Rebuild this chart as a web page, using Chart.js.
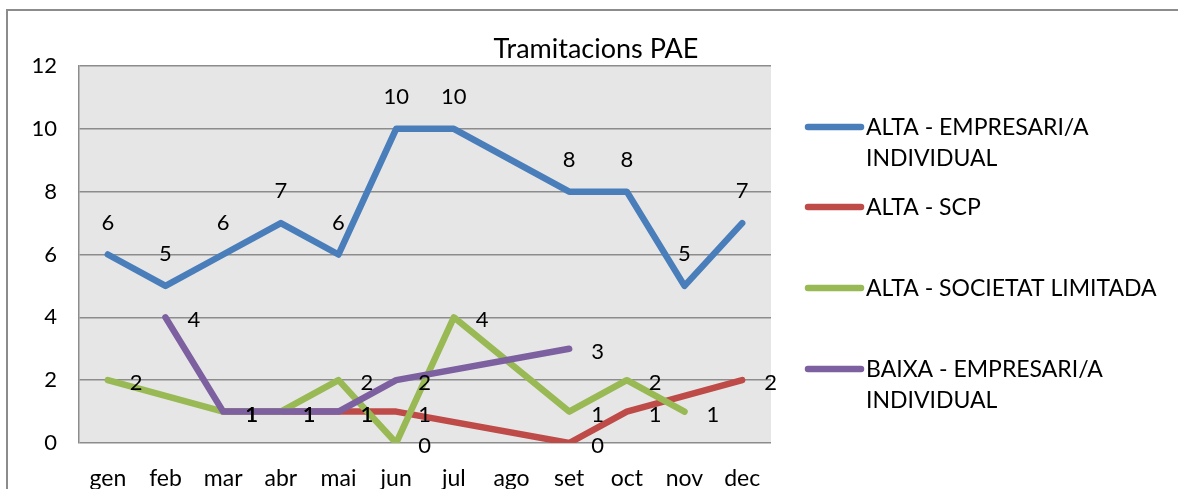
<!DOCTYPE html>
<html>
<head>
<meta charset="utf-8">
<script src="https://cdn.jsdelivr.net/npm/chart.js"></script>
<style>
  body { margin: 0; background: #fff; }
  #wrap { width: 1178px; height: 489px; }
</style>
</head>
<body>
<div id="wrap"><canvas id="line-chart" width="1178" height="489"></canvas></div>
<script>
var mesi = ['gen', 'feb', 'mar', 'abr', 'mai', 'jun', 'jul', 'ago', 'set', 'oct', 'nov', 'dec'];
var altaEmpresari = [6, 5, 6, 7, 6, 10, 10, null, 8, 8, 5, 7];
var altaScp = [null, null, 1, 1, 1, 1, null, null, 0, 1, null, 2];
var altaSocietat = [2, null, 1, 1, 2, 0, 4, null, 1, 2, 1, null];
var baixaEmpresari = [null, 4, 1, 1, 1, 2, null, null, 3, null, null, null];
var yTicks = [0, 2, 4, 6, 8, 10, 12];

var titol = 'Tramitacions PAE';
var series = [
    { label: ['ALTA - EMPRESARI/A', 'INDIVIDUAL'], color: '#4a7ebb', data: altaEmpresari },
    { label: ['ALTA - SCP'], color: '#be4b48', data: altaScp },
    { label: ['ALTA - SOCIETAT LIMITADA'], color: '#98b954', data: altaSocietat },
    { label: ['BAIXA - EMPRESARI/A', 'INDIVIDUAL'], color: '#7d60a0', data: baixaEmpresari }
];

var font = 'Lato, "Open Sans", sans-serif';

// marc, fons gris, titol i llegenda
var decor = {
    id: 'decor',
    beforeDraw: function(chart) {
        var ctx = chart.ctx, a = chart.chartArea;
        ctx.save();
        ctx.fillStyle = '#e6e6e6';
        ctx.fillRect(a.left, a.top, a.right - a.left, a.bottom - a.top);
        ctx.strokeStyle = '#8c8c8c';
        ctx.lineWidth = 2;
        ctx.strokeRect(7, 10, 1200, 520);
        ctx.restore();
    },
    afterDraw: function(chart) {
        var ctx = chart.ctx;
        ctx.save();
        ctx.fillStyle = '#000';
        ctx.font = '27px ' + font;
        ctx.textAlign = 'center';
        ctx.textBaseline = 'middle';
        ctx.fillText(titol, 596, 49);

        var ys = [127, 207, 288, 369];
        ctx.font = '23px ' + font;
        ctx.textAlign = 'left';
        series.forEach(function(s, i) {
            ctx.strokeStyle = s.color;
            ctx.lineWidth = 6.5;
            ctx.lineCap = 'round';
            ctx.beginPath();
            ctx.moveTo(808, ys[i]);
            ctx.lineTo(861, ys[i]);
            ctx.stroke();
            s.label.forEach(function(t, j) {
                ctx.fillText(t, 866, ys[i] + 1 + j * 31);
            });
        });
        ctx.restore();
    }
};

// etiquetes de dades
var etiquetes = {
    id: 'etiquetes',
    afterDatasetsDraw: function(chart) {
        var ctx = chart.ctx;
        ctx.save();
        ctx.fillStyle = '#000';
        ctx.font = '22px ' + font;
        ctx.textBaseline = 'middle';
        chart.data.datasets.forEach(function(ds, i) {
            var meta = chart.getDatasetMeta(i);
            meta.data.forEach(function(pt, k) {
                var v = ds.data[k];
                if (v === null || v === undefined) return;
                if (i === 0) {
                    ctx.textAlign = 'center';
                    ctx.fillText(String(v), pt.x, pt.y - 32);
                } else {
                    ctx.textAlign = 'left';
                    ctx.fillText(String(v), pt.x + 22, pt.y + 3);
                }
            });
        });
        ctx.restore();
    }
};

var ctx = document.getElementById('line-chart');
var chart = new Chart(ctx, {
    type: 'line',
    data: {
        labels: mesi,
        datasets: series.map(function(s, i) {
            return {
                label: s.label.join(' '),
                data: s.data,
                borderColor: s.color,
                backgroundColor: s.color,
                borderWidth: 6.5,
                borderJoinStyle: 'round',
                borderCapStyle: 'round',
                pointRadius: 0,
                spanGaps: true,
                tension: 0,
                order: 4 - i
            };
        })
    },
    options: {
        responsive: false,
        animation: false,
        layout: { padding: { top: 66, right: 407, left: 0, bottom: 0 } },
        plugins: {
            legend: { display: false },
            title: { display: false },
            tooltip: { enabled: false }
        },
        scales: {
            x: {
                offset: true,
                grid: { display: false, drawTicks: false },
                border: { display: false },
                ticks: { color: '#000', font: { family: font, size: 23 }, padding: 22, maxRotation: 0, autoSkip: false },
                afterFit: function(scale) { scale.height = 46; }
            },
            y: {
                min: 0,
                max: 12,
                afterBuildTicks: function(scale) {
                    scale.ticks = yTicks.map(function(v) { return { value: v }; });
                },
                grid: { color: '#8c8c8c', lineWidth: 1.5, drawTicks: false },
                border: { display: true, color: '#8c8c8c', width: 1.5 },
                ticks: { color: '#000', font: { family: font, size: 22 }, padding: 22 },
                afterFit: function(scale) { scale.width = 79; }
            }
        }
    },
    plugins: [decor, etiquetes]
});
</script>
</body>
</html>
